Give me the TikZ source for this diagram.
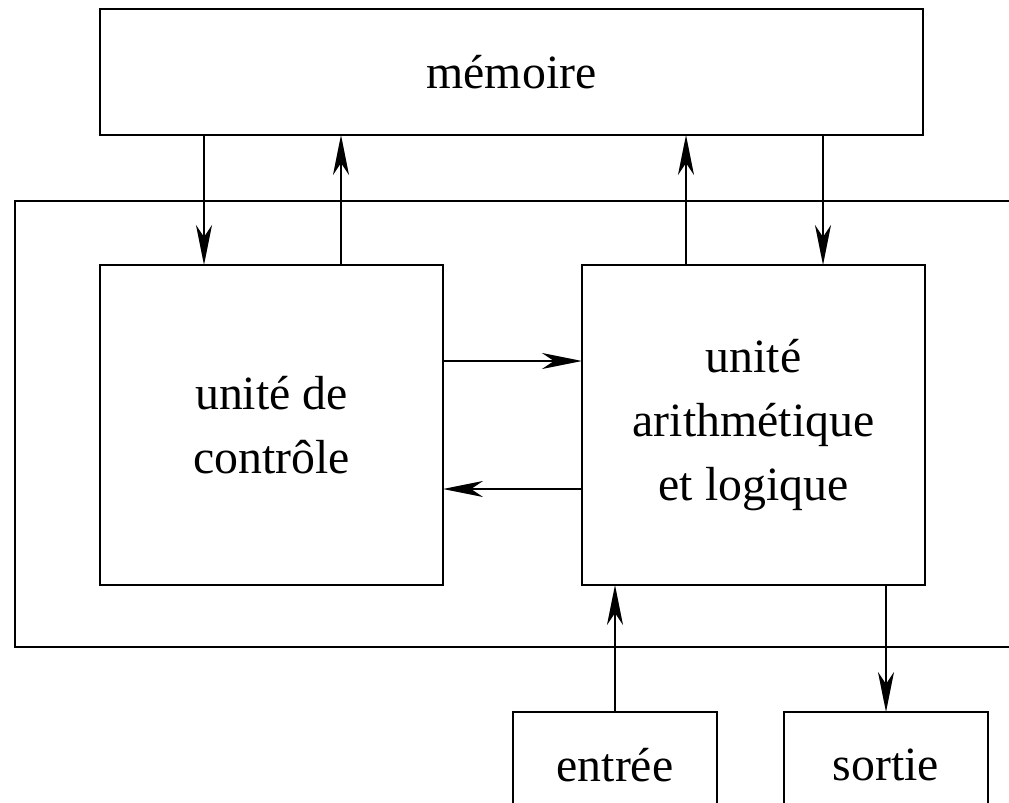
\documentclass[tikz,border=0pt]{standalone}
\usepackage{fontspec}
\setmainfont{Liberation Serif}
\usetikzlibrary{arrows.meta,positioning}

\begin{document}
\begin{tikzpicture}[x=0.5pt,y=-0.5pt,
    >={Stealth[length=20pt,width=8pt,inset=6pt]},
    line width=0.9pt,
    bloc/.style={draw,rectangle,inner sep=0pt,outer sep=0pt,align=center,
        font=\fontsize{23.9}{31.8}\selectfont}]
  \useasboundingbox (0,0) rectangle (1009,803);
  \clip (0,0) rectangle (1009,803);

  \node[bloc,minimum width=411.5pt,minimum height=63pt] (mem) at (511.5,72) {mémoire};
  \node[bloc,minimum width=507.5pt,minimum height=223pt] (cpu) at (522.5,424) {};
  \node[bloc,minimum width=171.5pt,minimum height=160pt] (ctl) at (271.5,425) {unité de\\contrôle};
  \node[bloc,minimum width=171.5pt,minimum height=160pt] (alu) at (753.5,425) {unité\\arithmétique\\et logique};
  \node[bloc,minimum width=102pt,minimum height=53pt] (ent) at (615,765) {entrée};
  \node[bloc,minimum width=102pt,minimum height=53pt] (srt) at (886,765) {sortie};

  % memoire <-> controle
  \draw[->] ([xshift=-33.75pt]ctl.north |- mem.south) -- ([xshift=-33.75pt]ctl.north);
  \draw[->] ([xshift=34.75pt]ctl.north) -- ([xshift=34.75pt]ctl.north |- mem.south);
  % memoire <-> ual
  \draw[->] ([xshift=-33.75pt]alu.north) -- ([xshift=-33.75pt]alu.north |- mem.south);
  \draw[->] ([xshift=34.75pt]alu.north |- mem.south) -- ([xshift=34.75pt]alu.north);
  % controle <-> ual
  \draw[->] ([yshift=32pt]ctl.east) -- ([yshift=32pt]alu.west);
  \draw[->] ([yshift=-32pt]alu.west) -- ([yshift=-32pt]ctl.east);
  % entree / sortie
  \draw[->] (ent.north) -- (ent.north |- alu.south);
  \draw[->] (srt.north |- alu.south) -- (srt.north);
\end{tikzpicture}
\end{document}
